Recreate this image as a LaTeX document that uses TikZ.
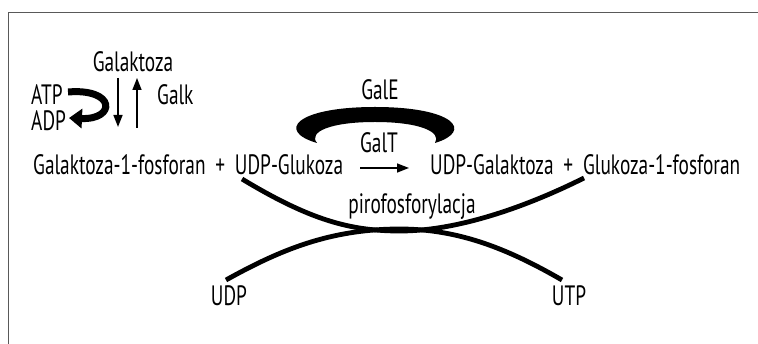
\documentclass[tikz,border=0pt]{standalone}
\usepackage{fontspec}
\setmainfont{PT Sans}[FakeStretch=0.69]
\usetikzlibrary{arrows.meta}
\begin{document}
\begin{tikzpicture}[x=1pt,y=-1pt,
  lbl/.style={inner sep=0pt, anchor=base west, font=\fontsize{28}{30}\selectfont},
  lblc/.style={inner sep=0pt, anchor=base, font=\fontsize{28}{30}\selectfont},
  thin arrow/.style={line width=1.6pt, -{Triangle[length=12pt,width=9pt]}},
  swoop/.style={line width=4.8pt, line cap=butt}]
\useasboundingbox (0,0) rectangle (758,344);
\clip (0,0) rectangle (758,344);
\draw[line width=1pt, black!65] (8,400) -- (8,12.5) -- (800,12.5);
% texts
\node[lblc] (gal) at (133,72) {Galaktoza};
\node[lbl] (atp) at (31,105) {ATP};
\node[lbl] (adp) at (31,131) {ADP};
\node[lbl] (galk) at (157,105) {Galk};
\node[lblc] (gale) at (380,100) {GalE};
\node[lblc] (galt) at (379,153) {GalT};
\node[lbl] (left) at (33,175) {Galaktoza-1-fosforan \,+\, UDP-Glukoza};
\node[lbl] (right) at (430,175) {UDP-Galaktoza \,+\, Glukoza-1-fosforan};
\node[lblc] (piro) at (412,214) {pirofosforylacja};
\node[lblc] (udp) at (229,306) {UDP};
\node[lblc] (utp) at (569,306) {UTP};
% coordinates
\coordinate (d1) at (118,78);
\coordinate (d2) at (118,127);
\coordinate (u1) at (137,128);
\coordinate (u2) at (137,78);
\coordinate (t1) at (360,168);
\coordinate (t2) at (409,168);
\coordinate (a0) at (68,92);
\coordinate (a1) at (69,118);
\coordinate (A0) at (242,179);
\coordinate (Am) at (400,231);
\coordinate (A1) at (584,178);
\coordinate (B0) at (226,280);
\coordinate (Bm) at (400,229);
\coordinate (B1) at (562,280);
% arrows
\draw[thin arrow] (d1) -- (d2);
\draw[thin arrow] (u1) -- (u2);
\draw[thin arrow] (t1) -- (t2);
\draw[line width=7pt, -{Triangle[length=13pt,width=19pt]}] (a0) .. controls (116,88) and (116,120) .. (a1);
% GalE crescent
\fill (317,143) .. controls (276,131) and (296,107) .. (375,107) .. controls (454,107) and (474,131) .. (435,143)
  .. controls (442,132) and (420,122) .. (375,122) .. controls (330,122) and (308,132) .. (317,143) -- cycle;
% pyrophosphorylase swoops
\draw[swoop] (A0) .. controls (310,220) and (350,231) .. (Am) .. controls (460,231) and (530,205) .. (A1);
\draw[swoop] (B0) .. controls (280,250) and (330,229) .. (Bm) .. controls (460,229) and (510,250) .. (B1);
\end{tikzpicture}
\end{document}
